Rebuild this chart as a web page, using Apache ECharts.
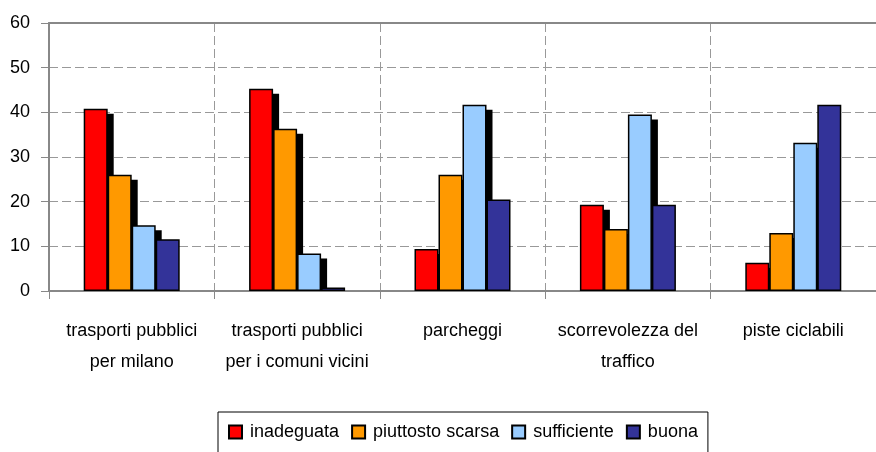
<!DOCTYPE html>
<html>
<head>
<meta charset="utf-8">
<script src="https://cdn.jsdelivr.net/npm/echarts@6/dist/echarts.min.js"></script>
<style>
  html, body { margin: 0; padding: 0; background: #fff; }
  #chart { width: 876px; height: 452px; }
</style>
</head>
<body>
<div id="chart"></div>
<script>
const categories = [
  "trasporti pubblici\nper milano",
  "trasporti pubblici\nper i comuni vicini",
  "parcheggi",
  "scorrevolezza del\ntraffico",
  "piste ciclabili"
];
const inadeguata = [40.8, 45.3, 9.4, 19.3, 6.3];
const piuttostoScarsa = [26.0, 36.3, 26.0, 13.9, 13.0];
const sufficiente = [14.7, 8.4, 41.7, 39.5, 33.2];
const buona = [11.6, 0.8, 20.5, 19.3, 41.7];
const seriesNames = ["inadeguata", "piuttosto scarsa", "sufficiente", "buona"];
const colors = ["#ff0000", "#ff9900", "#99ccff", "#333399"];

const BAR_W = 24;
const SH_DX = 6;
const SH_DY = 5;
const FONT = "'Liberation Sans', Arial, sans-serif";

// shadows only for the first three series (buona has none in the original)
const shadowData = [];
[inadeguata, piuttostoScarsa, sufficiente].forEach((arr, k) => {
  arr.forEach((v, i) => shadowData.push([i, v, k]));
});

const chart = echarts.init(document.getElementById("chart"));
const gray = "#888";
const dashed = { color: "#999", width: 1, type: [9, 4] };

chart.setOption({
  animation: false,
  backgroundColor: "#fff",
  textStyle: { fontFamily: FONT },
  grid: { left: 49, top: 23, width: 833, height: 268 },
  legend: {
    data: seriesNames,
    left: 218,
    top: 412,
    orient: "horizontal",
    padding: [11, 10, 30, 10],
    itemGap: 12,
    itemWidth: 13,
    itemHeight: 13,
    icon: "rect",
    borderColor: "#000",
    borderWidth: 1,
    textStyle: { fontSize: 18, color: "#000", fontFamily: FONT, padding: [0, 0, 0, 3] }
  },
  xAxis: [
    {
      type: "category",
      data: categories,
      axisLine: { show: true, lineStyle: { color: gray, width: 2 } },
      axisTick: { show: true, length: 8, lineStyle: { color: gray, width: 1 } },
      splitLine: { show: true, interval: 0, lineStyle: dashed },
      axisLabel: {
        interval: 0,
        margin: 25,
        fontSize: 18,
        lineHeight: 31,
        color: "#000",
        fontFamily: FONT
      }
    },
    {
      type: "category",
      data: categories,
      position: "top",
      axisLine: { show: true, lineStyle: { color: gray, width: 2 } },
      axisTick: { show: false },
      axisLabel: { show: false },
      splitLine: { show: false }
    }
  ],
  yAxis: {
    type: "value",
    min: 0,
    max: 60,
    interval: 10,
    axisLine: { show: true, lineStyle: { color: gray, width: 2 } },
    axisTick: { show: true, length: 8, lineStyle: { color: gray, width: 1 } },
    splitLine: { show: true, lineStyle: dashed },
    axisLabel: { fontSize: 18, color: "#000", margin: 19, fontFamily: FONT }
  },
  series: [
    {
      name: "shadow",
      type: "custom",
      z: 1,
      silent: true,
      encode: { x: 0, y: 1 },
      data: shadowData,
      renderItem: function (params, api) {
        const cat = api.value(0);
        const val = api.value(1);
        const k = api.value(2);
        const base = api.coord([cat, 0]);
        const top = api.coord([cat, val]);
        return {
          type: "rect",
          shape: {
            x: base[0] - BAR_W * 2 + k * BAR_W + SH_DX,
            y: top[1] + SH_DY,
            width: BAR_W,
            height: Math.max(0, base[1] - top[1] - SH_DY)
          },
          style: { fill: "#000" }
        };
      }
    },
    ...[inadeguata, piuttostoScarsa, sufficiente, buona].map((arr, k) => ({
      name: seriesNames[k],
      type: "bar",
      z: 2,
      barWidth: BAR_W,
      barGap: "0%",
      data: arr,
      itemStyle: { color: colors[k], borderColor: "#000", borderWidth: 1.5 }
    }))
  ]
});
</script>
</body>
</html>
